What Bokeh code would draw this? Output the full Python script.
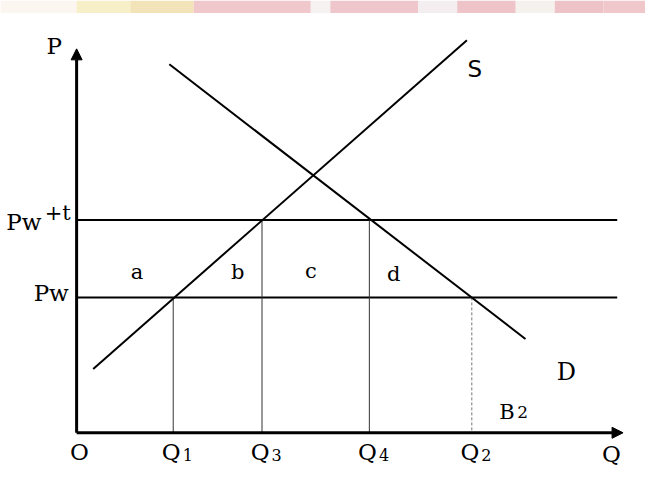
from bokeh.plotting import figure
from bokeh.models import Range1d, Arrow, NormalHead
from bokeh.core.properties import value
from bokeh.embed import file_html
from bokeh.resources import INLINE

# ---- data (Q in units, P in units) ----
q_sub = ["1", "3", "4", "2"]
q_vals = [0.99, 1.90, 3.00, 4.05]
q_tops = [1.40, 2.20, 2.20, 1.40]
pw = 1.40
pw_t = 2.20
supply_q = [0.17, 4.00]
supply_p = [0.66, 4.06]
demand_q = [0.95, 4.60]
demand_p = [3.81, 0.97]
q_axis_max = 5.60
p_axis_max = 3.97
h_line_end = 5.54
area_labels = ["a", "b", "c", "d"]
area_q = [0.62, 1.65, 2.40, 3.25]
area_p = [1.66, 1.66, 1.67, 1.64]

# decorative top band (scan artifact)
band_edges = [-0.78, 0.0, 0.55, 1.2, 2.4, 2.6, 3.5, 3.9, 4.5, 4.9, 5.4, 5.9]
band_colors = ["#fbf7f0", "#f6efc8", "#f3e3b8", "#f0c8cc", "#f7f2f2", "#efc6cb",
               "#f4eef0", "#efc4c8", "#f5f1ec", "#edc3c7", "#f0c8cc"]

SERIF = value("DejaVu Serif")

p = figure(width=645, height=470, output_backend="svg", toolbar_location=None,
           x_range=Range1d(-0.78, 5.83), y_range=Range1d(-0.39, 4.47),
           x_axis_type=None, y_axis_type=None, min_border=0)
p.outline_line_color = None
p.grid.visible = False
p.background_fill_color = "white"

# top band
p.quad(left=band_edges[:-1], right=band_edges[1:], bottom=4.34, top=4.47,
       fill_color=band_colors, line_color=None)

# horizontal price lines
p.segment(x0=[0, 0], y0=[pw, pw_t], x1=[h_line_end, h_line_end], y1=[pw, pw_t],
          line_color="black", line_width=2)

# vertical drop lines
p.segment(x0=q_vals[:3], y0=q_tops[:3], x1=q_vals[:3], y1=[0, 0, 0],
          line_color="#333333", line_width=1)
p.segment(x0=[q_vals[3]], y0=[q_tops[3]], x1=[q_vals[3]], y1=[0],
          line_color="#777777", line_width=1, line_dash="3 2")

# supply & demand
p.line(supply_q, supply_p, line_color="black", line_width=2)
p.line(demand_q, demand_p, line_color="black", line_width=2)

# axes with arrowheads
p.add_layout(Arrow(end=NormalHead(size=11, fill_color="black", line_color="black"),
                   x_start=0, y_start=0, x_end=0, y_end=p_axis_max,
                   line_width=3, line_color="black"))
p.add_layout(Arrow(end=NormalHead(size=11, fill_color="black", line_color="black"),
                   x_start=0, y_start=0, x_end=q_axis_max, y_end=0,
                   line_width=3, line_color="black"))

# Q axis labels
p.text(x=[v - 0.02 for v in q_vals], y=[-0.20] * 4, text=["Q"] * 4, text_font=SERIF,
       text_font_size="23px", text_align="center", text_baseline="middle")
p.text(x=[v + 0.15 for v in q_vals], y=[-0.23] * 4, text=q_sub, text_font=SERIF,
       text_font_size="16px", text_align="center", text_baseline="middle")
p.text(x=[0.03, 5.48], y=[-0.20, -0.22], text=["O", "Q"], text_font=SERIF,
       text_font_size="23px", text_align="center", text_baseline="middle")

# P axis labels
p.text(x=[-0.23], y=[4.00], text=["P"], text_font=SERIF, text_font_size="23px",
       text_align="center", text_baseline="middle")
p.text(x=[-0.08], y=[pw + 0.05], text=["Pw"], text_font=SERIF, text_font_size="23px",
       text_align="right", text_baseline="middle")
p.text(x=[-0.36], y=[pw_t - 0.02], text=["Pw"], text_font=SERIF, text_font_size="23px",
       text_align="right", text_baseline="middle")
p.text(x=[-0.06], y=[pw_t + 0.07], text=["+t"], text_font=SERIF, text_font_size="21px",
       text_align="right", text_baseline="middle")

# curve labels
p.text(x=[4.08], y=[3.76], text=["S"], text_font=value("DejaVu Sans"),
       text_font_size="23px", text_align="center", text_baseline="middle")
p.text(x=[5.02], y=[0.63], text=["D"], text_font=SERIF, text_font_size="24px",
       text_align="center", text_baseline="middle")
p.text(x=[4.41], y=[0.22], text=["B"], text_font=SERIF, text_font_size="21px",
       text_align="center", text_baseline="middle")
p.text(x=[4.57], y=[0.21], text=["2"], text_font=SERIF, text_font_size="17px",
       text_align="center", text_baseline="middle")

# area labels
p.text(x=area_q, y=area_p, text=area_labels, text_font=SERIF, text_font_size="21px",
       text_align="center", text_baseline="middle")

open("out.html", "w").write(file_html(p, INLINE))
